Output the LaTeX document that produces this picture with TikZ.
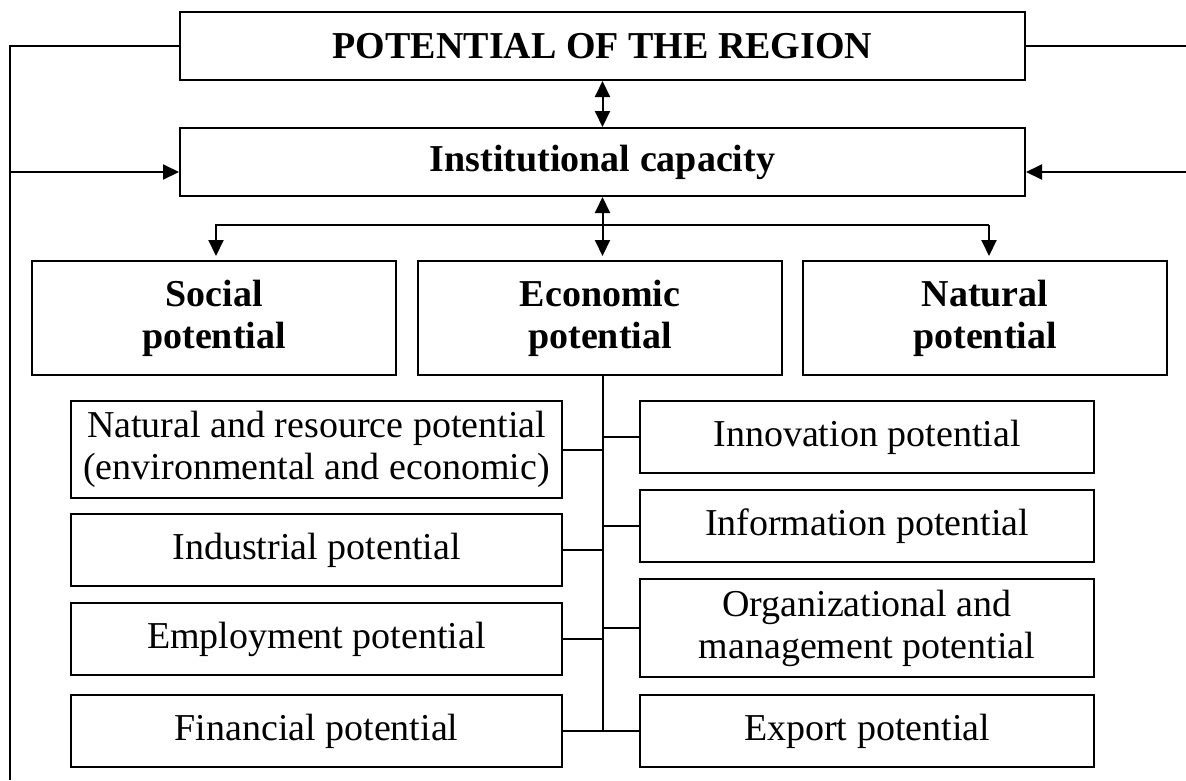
\documentclass[tikz,border=0pt]{standalone}
\usepackage{fontspec}
\setmainfont{Liberation Serif}
\usetikzlibrary{arrows.meta, positioning}

\begin{document}
\begin{tikzpicture}[x=1pt, y=-1pt,
        block/.style={rectangle, draw, line width=2pt, inner sep=0pt, align=center, font=\fontsize{38}{42}\selectfont},
        head/.style={block, font=\fontsize{38}{42}\selectfont\bfseries},
        link/.style={line width=2pt},
        arrow/.style={link, -{Triangle[length=16pt, width=15pt]}},
        twoway/.style={link, {Triangle[length=16pt, width=15pt]}-{Triangle[length=16pt, width=15pt]}}
    ]
        \useasboundingbox (0,0) rectangle (1186,780);
        \node[head, minimum width=845pt, minimum height=68pt] (region) at (602.5,46) {POTENTIAL OF THE REGION};
        \node[head, minimum width=845pt, minimum height=68pt] (inst) at (602.5,162) {Institutional capacity};
        \node[head, minimum width=364pt, minimum height=114pt] (social) at (214,318) {Social\\potential};
        \node[head, minimum width=364pt, minimum height=114pt] (econ) at (600,318) {Economic\\potential};
        \node[head, minimum width=364pt, minimum height=114pt] (natural) at (985,318) {Natural\\potential};
        % left column
        \node[block, minimum width=491pt, minimum height=97pt] (resource) at (316.5,449.5) {Natural and resource potential\\(environmental and economic)};
        \node[block, minimum width=491pt, minimum height=72pt] (industrial) at (316.5,550) {Industrial potential};
        \node[block, minimum width=491pt, minimum height=72pt] (employment) at (316.5,639) {Employment potential};
        \node[block, minimum width=491pt, minimum height=72pt] (financial) at (316.5,731) {Financial potential};
        % right column
        \node[block, minimum width=454pt, minimum height=72pt] (innovation) at (867,437) {Innovation potential};
        \node[block, minimum width=454pt, minimum height=72pt] (information) at (867,526) {Information potential};
        \node[block, minimum width=454pt, minimum height=98pt] (organization) at (867,628) {Organizational and\\management potential};
        \node[block, minimum width=454pt, minimum height=72pt] (export) at (867,731) {Export potential};

        \coordinate (rail mid) at (10,172);
        \coordinate (rail end) at (10,780);
        \coordinate (edge mid) at (1186,172);
        \coordinate (branch left) at (216,225);
        \coordinate (branch right) at (989,225);
        \coordinate (trunk end) at (603,730);

        \draw[twoway] (region) -- (inst);
        \draw[twoway, shorten >=4pt] (inst.south) -- (inst.south |- econ.north);
        \draw[arrow, shorten >=4pt] (branch right) -- (branch left) -- (branch left |- social.north);
        \draw[arrow, shorten >=4pt] (branch right) -- (branch right |- natural.north);
        \draw[link] (region.west) -- (region.west -| rail end) -- (rail end);
        \draw[arrow] (rail mid) -- (rail mid -| inst.west);
        \draw[link] (region.east) -- (region.east -| edge mid);
        \draw[arrow] (edge mid) -- (edge mid -| inst.east);

        \draw[link] (econ.south -| trunk end) -- (trunk end);
        \draw[link] (resource.east) -- (resource.east -| trunk end);
        \draw[link] (industrial.east) -- (industrial.east -| trunk end);
        \draw[link] (employment.east) -- (employment.east -| trunk end);
        \draw[link] (innovation.west) -- (innovation.west -| trunk end);
        \draw[link] (information.west) -- (information.west -| trunk end);
        \draw[link] (organization.west) -- (organization.west -| trunk end);
        \draw[link] (financial.east) -- (financial.east -| export.west);
    \end{tikzpicture}
\end{document}
